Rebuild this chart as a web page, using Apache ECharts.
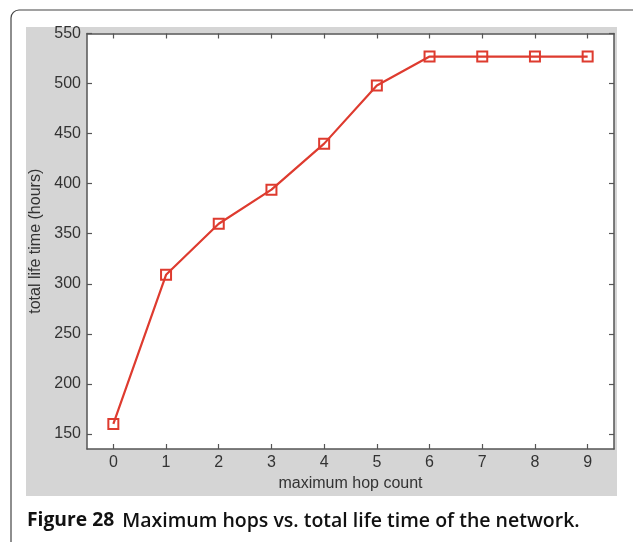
<!DOCTYPE html>
<html>
<head>
<meta charset="utf-8">
<script src="https://cdn.jsdelivr.net/npm/echarts@6/dist/echarts.min.js"></script>
<style>html,body{margin:0;padding:0;background:#fff}#c{width:633px;height:542px}</style>
</head>
<body>
<div id="c"></div>
<script>
const categories = ['0','1','2','3','4','5','6','7','8','9'];
const lifeTime = [160, 309, 360, 394, 440, 498, 527, 527, 527, 527];
const yTicks = [150, 200, 250, 300, 350, 400, 450, 500, 550];
const xName = 'maximum hop count';
const yName = 'total life time (hours)';
const captionBold = 'Figure 28';
const captionText = 'Maximum hops vs. total life time of the network.';

const chart = echarts.init(document.getElementById('c'), null, {renderer: 'canvas'});
const axisCol = '#555555';
const textCol = '#333333';
const fontFam = '"Liberation Sans", Arial, sans-serif';

const yBase = {
  type: 'value', min: 135, max: 550,
  splitLine: {show: false},
  axisLine: {show: true, lineStyle: {color: axisCol, width: 1.5}},
  axisTick: {show: true, inside: true, length: 5, customValues: yTicks, lineStyle: {color: axisCol, width: 1.2}},
  axisLabel: {show: true, customValues: yTicks, color: textCol, fontSize: 16, fontFamily: fontFam, margin: 6}
};
const xBase = {
  type: 'category', data: categories, boundaryGap: true,
  axisLine: {show: true, onZero: false, lineStyle: {color: axisCol, width: 1.5}},
  axisTick: {show: true, inside: true, alignWithLabel: true, length: 5, lineStyle: {color: axisCol, width: 1.2}},
  axisLabel: {show: true, color: textCol, fontSize: 16, fontFamily: fontFam, margin: 6},
  splitLine: {show: false}
};

chart.setOption({
  animation: false,
  backgroundColor: '#ffffff',
  graphic: [
    {type: 'rect', z: -10, silent: true, shape: {x: 11, y: 10, width: 630, height: 600, r: 8},
     style: {fill: 'none', stroke: '#444', lineWidth: 1.2}},
    {type: 'rect', z: -9, silent: true, shape: {x: 26, y: 27, width: 591, height: 469},
     style: {fill: '#d5d5d5'}},
    {type: 'rect', z: -8, silent: true, shape: {x: 87, y: 33.5, width: 527, height: 415.5},
     style: {fill: '#ffffff'}},
    {type: 'text', z: 10, silent: true, x: 27, y: 521,
     style: {text: '{a|' + captionBold + '}{b| ' + captionText + '}', verticalAlign: 'middle',
       rich: {
         a: {fontFamily: '"Open Sans", sans-serif', fontWeight: 700, fontSize: 19.3, fill: '#111'},
         b: {fontFamily: '"Open Sans", sans-serif', fontWeight: 600, fontSize: 19.5, fill: '#111', padding: [0, 0, 0, 3]}
       }}}
  ],
  grid: {left: 87, top: 33.5, right: 19, bottom: 93, containLabel: false},
  xAxis: [
    Object.assign({}, xBase, {position: 'bottom', name: xName, nameLocation: 'middle', nameGap: 26,
      nameTextStyle: {color: textCol, fontSize: 16, fontFamily: fontFam}}),
    Object.assign({}, xBase, {position: 'top', axisLabel: {show: false}})
  ],
  yAxis: [
    Object.assign({}, yBase, {position: 'left', name: yName, nameLocation: 'middle', nameGap: 40,
      nameTextStyle: {color: textCol, fontSize: 16, fontFamily: fontFam}}),
    Object.assign({}, yBase, {position: 'right', axisLabel: {show: false}})
  ],
  series: [{
    type: 'line', xAxisIndex: 0, yAxisIndex: 0, data: lifeTime,
    symbol: 'rect', symbolSize: 10,
    lineStyle: {color: '#de3b2f', width: 2.2},
    itemStyle: {color: 'rgba(0,0,0,0)', borderColor: '#de3b2f', borderWidth: 2},
    emphasis: {disabled: true}
  }]
});
</script>
</body>
</html>
